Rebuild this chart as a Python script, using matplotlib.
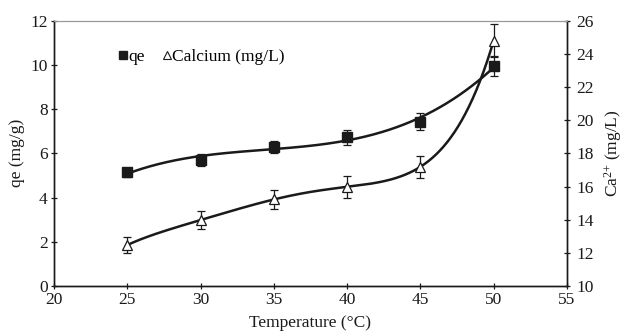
import numpy as np
import matplotlib
matplotlib.use("Agg")
import matplotlib.pyplot as plt
from matplotlib.lines import Line2D

plt.rcParams['font.family'] = ['Liberation Serif', 'DejaVu Serif']
plt.rcParams['mathtext.fontset'] = 'custom'
plt.rcParams['mathtext.rm'] = 'Liberation Serif'
plt.rcParams['mathtext.it'] = 'Liberation Serif:italic'
plt.rcParams['mathtext.bf'] = 'Liberation Serif:bold'

temperature = [25, 30, 35, 40, 45, 50]
qe = [5.14, 5.70, 6.30, 6.73, 7.43, 9.95]
qe_err = [0.22, 0.25, 0.28, 0.33, 0.38, 0.47]
calcium = [12.47, 13.98, 15.22, 15.98, 17.19, 24.8]
calcium_err = [0.5, 0.57, 0.6, 0.65, 0.65, 1.0]

FS = 12.5
INK = '#1a1a1a'

fig = plt.figure(figsize=(6.33, 3.33), dpi=100)
ax = fig.add_axes([0.0853, 0.1411, 0.8104, 0.7967])
ax2 = ax.twinx()

t = np.array(temperature, float)
xs = np.linspace(25, 50, 300)
p_qe = np.polyfit(t, qe, 3)
p_ca = np.polyfit(t, calcium, 5)

ax.plot(xs, np.polyval(p_qe, xs), color=INK, lw=1.8, zorder=2)
ax.errorbar(temperature, qe, yerr=qe_err, fmt='s', color=INK, ms=7,
            ecolor=INK, elinewidth=0.9, capsize=3, capthick=0.9, zorder=3)

ax2.plot(xs, np.polyval(p_ca, xs), color=INK, lw=1.8, zorder=2)
ax2.errorbar(temperature, calcium, yerr=calcium_err, fmt='^', color=INK,
             mfc='white', mec=INK, mew=0.9, ms=7,
             ecolor=INK, elinewidth=0.9, capsize=3, capthick=0.9, zorder=3)

ax.set_xlim(20, 55)
ax.set_ylim(0, 12)
ax2.set_ylim(10, 26)
ax.set_xticks([20, 25, 30, 35, 40, 45, 50, 55])
ax.set_yticks([0, 2, 4, 6, 8, 10, 12])
ax2.set_yticks([10, 12, 14, 16, 18, 20, 22, 24, 26])

for a in (ax, ax2):
    a.tick_params(direction='inout', length=5, width=0.9, labelsize=FS,
                  colors=INK, pad=2)
    for s in ('left', 'right', 'bottom'):
        a.spines[s].set_linewidth(1.0)
        a.spines[s].set_color(INK)
    a.spines['top'].set_color('#999999')
    a.spines['top'].set_linewidth(0.8)
ax.tick_params(axis='y', labelright=False)
ax2.tick_params(axis='y', pad=4)

ax.set_xlabel('Temperature (°C)', fontsize=FS, labelpad=5, color=INK)
ax.set_ylabel('qe (mg/g)', fontsize=FS, labelpad=4, color=INK)
ax2.set_ylabel(r'Ca$^{2{+}}$ (mg/L)', fontsize=FS, labelpad=6, color=INK)

handles = [Line2D([], [], ls='none', marker='s', color=INK, ms=5.5),
           Line2D([], [], ls='none', marker='^', mfc='white', mec=INK, mew=0.8, ms=5.5)]
ax.legend(handles, ['qe', 'Calcium (mg/L)'], loc='center left',
          bbox_to_anchor=(0.127, 0.863), ncol=2, frameon=False, fontsize=FS,
          handlelength=0.5, handletextpad=0.05, columnspacing=1.0, borderpad=0,
          borderaxespad=0)

fig.savefig('out.png', dpi=100)
